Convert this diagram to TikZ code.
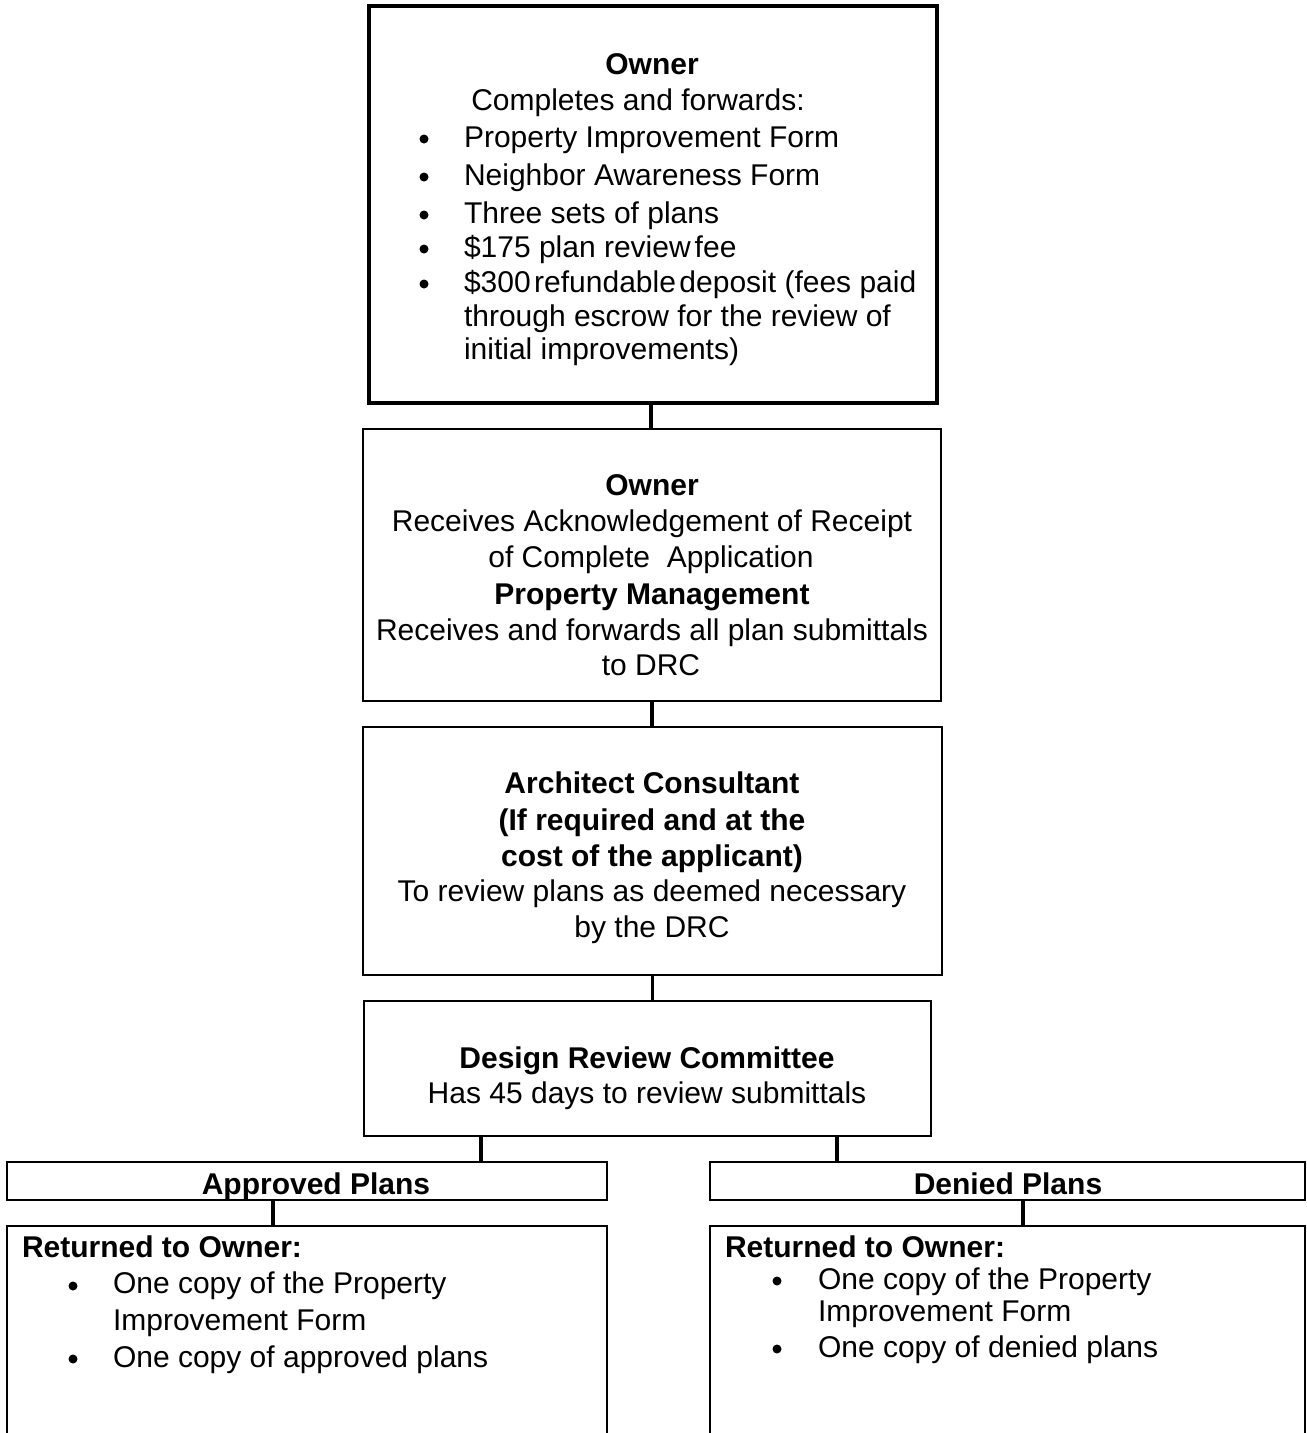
\documentclass[tikz,border=0pt]{standalone}
\usepackage{fontspec}
\setmainfont{Liberation Sans}
\begin{document}
\begin{tikzpicture}[x=1pt,y=-1pt,
  box/.style={draw, line width=2.2pt, inner sep=0pt, outer sep=0pt},
  thickbox/.style={box, line width=3.3pt},
  link/.style={line width=3.5pt},
  txt/.style={anchor=base, inner sep=0pt, outer sep=0pt, font=\fontsize{30}{36}\selectfont},
  txtl/.style={txt, anchor=base west},
  btxt/.style={txt, font=\fontsize{30}{36}\selectfont\bfseries},
  btxtl/.style={btxt, anchor=base west},
  dot/.style={circle, fill=black, inner sep=0pt, minimum size=9pt}]
\useasboundingbox (0,0) rectangle (1307,1433);

% ---------- boxes ----------
\node[thickbox, minimum width=568pt, minimum height=397pt] (b1) at (653,204.5) {};
\node[box, minimum width=578pt, minimum height=272pt] (b2) at (652,565) {};
\node[box, minimum width=579pt, minimum height=248pt] (b3) at (652.5,851) {};
\node[box, minimum width=567pt, minimum height=135pt] (b4) at (647.5,1068.5) {};
\node[box, minimum width=600pt, minimum height=38pt] (ap) at (307,1181) {};
\node[box, minimum width=595pt, minimum height=38pt] (dp) at (1007.5,1181) {};
\node[box, minimum width=600pt, minimum height=234pt] (ar) at (307,1343) {};
\node[box, minimum width=595pt, minimum height=234pt] (dr) at (1007.5,1343) {};

% ---------- connectors ----------
\draw[link] ([xshift=-2pt]b1.south) -- ([xshift=-2pt]b1.south |- b2.north);
\draw[link] (b2.south) -- (b2.south |- b3.north);
\draw[link] (b3.south) -- (b3.south |- b4.north);
\draw[link] ([xshift=-166.5pt]b4.south) -- ([xshift=-166.5pt]b4.south |- ap.north);
\draw[link] ([xshift=189.5pt]b4.south) -- ([xshift=189.5pt]b4.south |- dp.north);
\draw[link] ([xshift=-34pt]ap.south) -- ([xshift=-34pt]ap.south |- ar.north);
\draw[link] ([xshift=15.5pt]dp.south) -- ([xshift=15.5pt]dp.south |- dr.north);

% ---------- box 1 text ----------
\node[btxt] (t1a) at (652,74) {Owner};
\node[txt] (t1b) at (638,110) {Completes and forwards:};
\foreach \n/\y/\s in {1/147/{Property Improvement Form},
                      2/185/{Neighbor Awareness Form},
                      3/223/{Three sets of plans},
                      4/257/{\$175 plan review\hspace{4pt}fee},
                      5/292/{\$300\hspace{3.5pt}refundable\hspace{3.5pt}deposit (fees paid}} {
  \node[dot] (d1\n) at (424,\y-8) {};
  \node[txtl] (l1\n) at (464,\y) {\s};
}
\node[txtl] (l16) at (464,326) {through escrow for the  review of};
\node[txtl] (l17) at (464,359) {initial improvements)};

% ---------- box 2 text ----------
\node[btxt] (t2a) at (652,495) {Owner};
\node[txt] (t2b) at (652,531) {Receives Acknowledgement of Receipt};
\node[txt] (t2c) at (651,567) {of Complete \ Application};
\node[btxt] (t2d) at (652,604) {Property Management};
\node[txt] (t2e) at (652,640) {Receives and forwards all plan submittals};
\node[txt] (t2f) at (651,675) {to DRC};

% ---------- box 3 text ----------
\node[btxt] (t3a) at (652,793) {Architect Consultant};
\node[btxt] (t3b) at (652,830) {(If required and at the};
\node[btxt] (t3c) at (652,866) {cost of the applicant)};
\node[txt] (t3d) at (652,901) {To review plans as deemed necessary};
\node[txt] (t3e) at (652,937) {by the DRC};

% ---------- box 4 text ----------
\node[btxt] (t4a) at (647,1068) {Design Review Committee};
\node[txt] (t4b) at (647,1103) {Has 45 days to review submittals};

% ---------- decision headers ----------
\node[btxt] (tap) at (316,1194) {Approved Plans};
\node[btxt] (tdp) at (1008,1194) {Denied Plans};

% ---------- approved result ----------
\node[btxtl] (ra) at (22,1257) {Returned to Owner:};
\node[dot] (da1) at (73,1286) {};
\node[txtl] (la1) at (113,1293) {One copy of the Property};
\node[txtl] (la2) at (113,1330) {Improvement Form};
\node[dot] (da2) at (73,1359) {};
\node[txtl] (la3) at (113,1367) {One copy of approved plans};

% ---------- denied result ----------
\node[btxtl] (rd) at (725,1257) {Returned to Owner:};
\node[dot] (dd1) at (777,1281) {};
\node[txtl] (ld1) at (818,1289) {One copy of the Property};
\node[txtl] (ld2) at (818,1321) {Improvement Form};
\node[dot] (dd2) at (777,1349) {};
\node[txtl] (ld3) at (818,1357) {One copy of denied plans};
\end{tikzpicture}
\end{document}
